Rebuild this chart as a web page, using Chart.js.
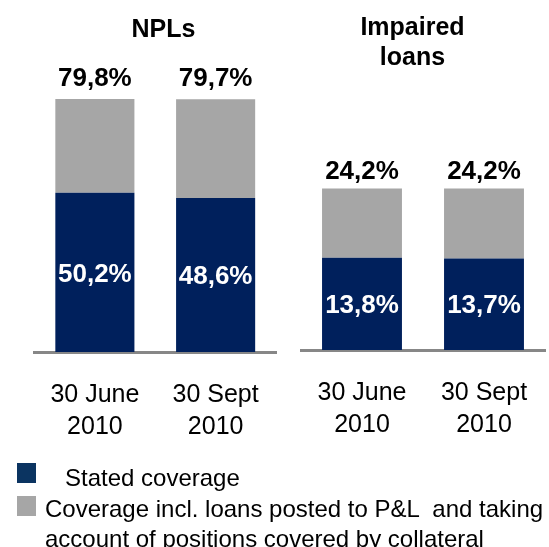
<!DOCTYPE html>
<html>
<head>
<meta charset="utf-8">
<script src="https://cdn.jsdelivr.net/npm/chart.js@4/dist/chart.umd.min.js"></script>
<style>
  body { margin: 0; background: #fff; }
  #wrap { position: relative; width: 549px; height: 547px; overflow: hidden; font-family: "Liberation Sans", Arial, sans-serif; }
  #npl { position: absolute; left: 0; top: 0; }
  #imp { position: absolute; left: 287px; top: 0; }
  .ttl { position: absolute; width: 160px; text-align: center; font-size: 25px; font-weight: bold; line-height: 30px; color: #000; }
  .sq { position: absolute; left: 17px; width: 19px; }
  .lg { position: absolute; font-size: 24px; color: #000; white-space: pre; line-height: 30px; }
</style>
</head>
<body>
<div id="wrap">
  <canvas id="npl" width="290" height="478"></canvas>
  <canvas id="imp" width="272" height="478"></canvas>
  <div class="ttl" style="left:83.5px;top:12.5px">NPLs</div>
  <div class="ttl" style="left:332.5px;top:11px">Impaired<br>loans</div>
  <div class="sq" style="top:463px;height:20px;background:#0b3461"></div>
  <div class="lg" style="left:65px;top:463px">Stated coverage</div>
  <div class="sq" style="top:496px;height:20px;background:#a6a6a6"></div>
  <div class="lg" style="left:45px;top:494px">Coverage incl. loans posted to P&amp;L  and taking
account of positions covered by collateral</div>
</div>
<script>
const periods = [['30 June', '2010'], ['30 Sept', '2010']];

const nplStated = [50.2, 48.6];
const nplTotal = [79.8, 79.7];

const impStated = [13.8, 13.7];
const impTotal = [24.2, 24.2];

const NAVY = '#00205c';
const GREY = '#a6a6a6';
const FONT = "'Liberation Sans', Arial, sans-serif";

function fmt(v){
    return v.toFixed(1).replace('.', ',') + '%';
}

// writes the totals above the bars and the stated share inside the navy part
const barLabels = {
    id: 'barLabels',
    afterDatasetsDraw(chart, args, opts){
        const ctx = chart.ctx;
        const low = chart.getDatasetMeta(0).data;
        const high = chart.getDatasetMeta(1).data;
        ctx.save();
        ctx.textAlign = 'center';
        ctx.textBaseline = 'middle';
        ctx.font = 'bold 26px ' + FONT;
        low.forEach(function(bar, i){
            ctx.save();
            ctx.beginPath();
            ctx.rect(bar.x - bar.width / 2, bar.y, bar.width, bar.base - bar.y);
            ctx.clip();
            ctx.fillStyle = '#fff';
            ctx.fillText(fmt(opts.stated[i]), bar.x, (bar.y + bar.base) / 2 + 2);
            ctx.restore();
            ctx.fillStyle = '#000';
            ctx.fillText(fmt(opts.total[i]), high[i].x, high[i].y - opts.gap);
        });
        ctx.restore();
    }
};

function makeChart(id, stated, total, yMax, pad, gap){
    const rest = total.map(function(t, i){ return +(t - stated[i]).toFixed(1); });
    return new Chart(document.getElementById(id), {
        type: 'bar',
        data: {
            labels: periods,
            datasets: [
                { label: 'Stated coverage', data: stated, backgroundColor: NAVY },
                { label: 'Coverage incl. loans posted to P&L', data: rest, backgroundColor: GREY }
            ]
        },
        options: {
            responsive: false,
            animation: false,
            layout: { padding: pad },
            datasets: { bar: { categoryPercentage: 1, barPercentage: 0.655 } },
            scales: {
                x: {
                    stacked: true,
                    grid: { display: false, drawTicks: false },
                    border: { display: true, color: '#878787', width: 3 },
                    ticks: {
                        color: '#000',
                        padding: 27,
                        maxRotation: 0,
                        font: { family: FONT, size: 25, lineHeight: 1.28 }
                    }
                },
                y: { stacked: true, display: false, min: 0, max: yMax }
            },
            plugins: {
                legend: { display: false },
                tooltip: { enabled: false },
                barLabels: { stated: stated, total: total, gap: gap }
            }
        },
        plugins: [barLabels]
    });
}

makeChart('npl', nplStated, nplTotal, 90,
    { left: 34.5, right: 14, top: 66.6, bottom: 8 }, 20);
makeChart('imp', impStated, impTotal, 35,
    { left: 14, right: 14, top: 116.25, bottom: 10 }, 17);
</script>
</body>
</html>
